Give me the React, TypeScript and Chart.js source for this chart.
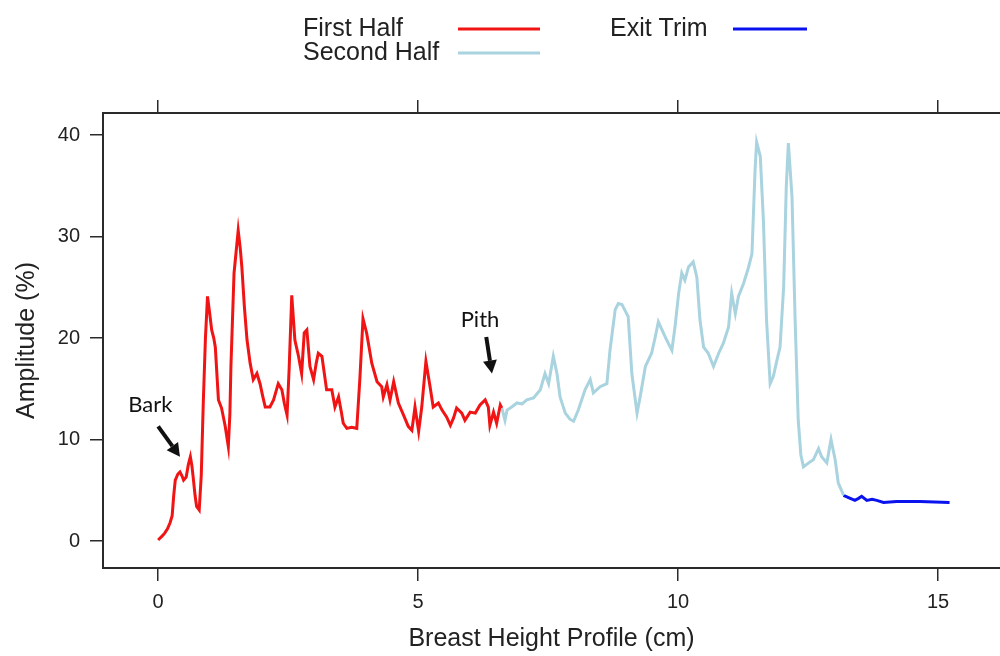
import React, { useEffect, useRef } from "react";
import { Chart, registerables } from "chart.js";

Chart.register(...registerables);

// ---------- data ----------
const firstHalfX = [
  0.0, 0.08, 0.13, 0.18, 0.23, 0.27, 0.3, 0.33, 0.38, 0.42, 0.46, 0.49, 0.54, 0.58, 0.62, 0.65, 0.68, 0.71, 0.74,
  0.79, 0.83, 0.87, 0.91, 0.95, 0.99, 1.03, 1.07, 1.1, 1.13, 1.16, 1.22, 1.29, 1.35, 1.38, 1.4, 1.46, 1.5, 1.54,
  1.58, 1.61, 1.66, 1.71, 1.77, 1.83, 1.9, 1.96, 2.01, 2.06, 2.15, 2.22, 2.31, 2.38, 2.43, 2.48, 2.52, 2.57, 2.6,
  2.63, 2.7, 2.76, 2.81, 2.86, 2.92, 2.99, 3.04, 3.08, 3.15, 3.24, 3.34, 3.4, 3.47, 3.52, 3.56, 3.63, 3.72, 3.82,
  3.88, 3.94, 4.01, 4.11, 4.21, 4.3, 4.33, 4.4, 4.46, 4.53, 4.62, 4.72, 4.81, 4.88, 4.94, 5.01, 5.07, 5.15, 5.23,
  5.29, 5.39, 5.46, 5.55, 5.62, 5.68, 5.74, 5.84, 5.9, 6.0, 6.1, 6.19, 6.29, 6.35, 6.38, 6.45, 6.51, 6.58, 6.61,
];
const firstHalfY = [
  0.1, 0.5, 0.8, 1.2, 1.8, 2.5, 4.5, 6.0, 6.6, 6.8, 6.4, 6.0, 6.3, 7.5, 8.3, 7.4, 6.0, 4.5, 3.4,
  3.05, 6.5, 13.9, 20.0, 24.1, 22.5, 20.8, 20.0, 19.1, 16.5, 13.9, 13.1, 11.3, 9.3, 12.5, 17.2, 26.4, 28.5, 30.6,
  28.8, 27.0, 23.0, 19.8, 17.5, 15.9, 16.5, 15.5, 14.3, 13.2, 13.2, 13.9, 15.5, 14.9, 13.5, 12.4, 17.0, 24.2, 22.0,
  19.8, 18.2, 16.5, 20.5, 20.8, 17.2, 15.9, 17.5, 18.5, 18.2, 14.9, 14.9, 13.2, 14.2, 12.8, 11.6, 11.1, 11.2, 11.1,
  16.0, 21.9, 20.5, 17.5, 15.7, 15.2, 14.2, 15.4, 13.9, 15.7, 13.6, 12.4, 11.3, 10.9, 13.2, 10.8, 13.2, 17.7, 15.2,
  13.2, 13.6, 12.9, 12.2, 11.4, 12.1, 13.1, 12.6, 11.9, 12.7, 12.6, 13.4, 13.9, 13.2, 11.4, 12.7, 11.6, 13.4, 13.1,
];

const secondHalfX = [
  6.61, 6.67, 6.71, 6.8, 6.9, 7.0, 7.09, 7.22, 7.35, 7.44, 7.51, 7.6, 7.67, 7.73, 7.83, 7.92, 7.99, 8.08, 8.21,
  8.31, 8.37, 8.5, 8.63, 8.69, 8.79, 8.85, 8.92, 9.0, 9.04, 9.11, 9.21, 9.27, 9.37, 9.49, 9.56, 9.62, 9.69, 9.78,
  9.88, 9.94, 10.01, 10.07, 10.13, 10.2, 10.29, 10.36, 10.42, 10.49, 10.58, 10.68, 10.78, 10.87, 10.97, 11.03,
  11.1, 11.16, 11.26, 11.35, 11.42, 11.48, 11.51, 11.58, 11.64, 11.7, 11.77, 11.83, 11.9, 11.96, 12.03, 12.08,
  12.12, 12.19, 12.25, 12.31, 12.36, 12.41, 12.51, 12.6, 12.7, 12.76, 12.86, 12.94, 13.02, 13.08, 13.15, 13.18,
];
const secondHalfY = [
  13.1, 11.9, 12.9, 13.2, 13.6, 13.5, 13.9, 14.1, 14.9, 16.5, 15.5, 18.2, 16.5, 14.2, 12.6, 12.0, 11.8, 12.9, 14.9,
  15.9, 14.6, 15.2, 15.5, 18.8, 22.8, 23.4, 23.3, 22.5, 22.1, 16.5, 12.6, 14.2, 17.2, 18.5, 20.1, 21.6, 20.8, 19.8,
  18.8, 21.1, 24.4, 26.4, 25.7, 27.0, 27.5, 26.0, 21.8, 19.1, 18.5, 17.2, 18.5, 19.5, 21.1, 24.4,
  22.4, 24.1, 25.4, 26.9, 28.3, 36.6, 39.3, 37.9, 31.6, 21.8, 15.5, 16.2, 17.8, 19.1, 25.1, 34.9,
  39.2, 33.9, 21.8, 11.9, 8.5, 7.3, 7.7, 8.0, 9.1, 8.3, 7.7, 10.0, 8.0, 5.7, 4.9, 4.5,
];

const exitTrimX = [13.18, 13.31, 13.4, 13.47, 13.53, 13.63, 13.73, 13.82, 13.95, 14.2, 14.65, 15.22];
const exitTrimY = [4.5, 4.2, 4.0, 4.2, 4.4, 4.0, 4.1, 4.0, 3.8, 3.9, 3.9, 3.8];

const seriesNames = ["First Half", "Second Half", "Exit Trim"];
const xTicks = [0, 5, 10, 15];
const yTicks = [0, 10, 20, 30, 40];
const xTitle = "Breast Height Profile (cm)";
const yTitle = "Amplitude (%)";
const annotationLabels = ["Bark", "Pith"];

// ---------- styles / layout ----------
const seriesColors = ["#f01414", "#a8d3df", "#0a12ee"];
const X_MIN = -1.06;
const X_MAX = 16.19;
const Y_MIN = -2.66;
const Y_MAX = 42.17;
const AXIS_COLOR = "#2a2a2a";
const SANS = '"Liberation Sans", Arial, Helvetica, sans-serif';

// annotation anchors (data units): text centre, arrow tail, arrow tip
const annotationAnchors = [
  { tx: -0.15, ty: 13.4, ax0: 0.0, ay0: 11.3, ax1: 0.42, ay1: 8.3 },
  { tx: 6.19, ty: 21.8, ax0: 6.31, ay0: 20.1, ax1: 6.42, ay1: 16.5 },
];

const toPoints = (xs: number[], ys: number[]) => xs.map((x, i) => ({ x, y: ys[i] }));

const legendPlugin = {
  id: "customLegend",
  afterDraw(chart: any) {
    const ctx = chart.ctx;
    const items = [
      { tx: 303, lx0: 458, lx1: 540, y: 29 },
      { tx: 303, lx0: 458, lx1: 540, y: 53 },
      { tx: 610, lx0: 733, lx1: 807, y: 29 },
    ];
    ctx.save();
    ctx.font = `25px ${SANS}`;
    ctx.textBaseline = "middle";
    ctx.textAlign = "left";
    items.forEach((it, i) => {
      ctx.fillStyle = "#222";
      ctx.fillText(seriesNames[i], it.tx, it.y);
      ctx.strokeStyle = seriesColors[i];
      ctx.lineWidth = 3;
      ctx.beginPath();
      ctx.moveTo(it.lx0, it.y);
      ctx.lineTo(it.lx1, it.y);
      ctx.stroke();
    });
    ctx.restore();
  },
};

const annotationPlugin = {
  id: "arrows",
  afterDatasetsDraw(chart: any) {
    const ctx = chart.ctx;
    const xs = chart.scales.x;
    const ys = chart.scales.y;
    ctx.save();
    annotationAnchors.forEach((a, i) => {
      const tx = xs.getPixelForValue(a.tx);
      const ty = ys.getPixelForValue(a.ty);
      ctx.font = `22px Lato, "Open Sans", sans-serif`;
      ctx.fillStyle = "#111";
      ctx.textAlign = "center";
      ctx.textBaseline = "middle";
      ctx.fillText(annotationLabels[i], tx, ty);
      const x0 = xs.getPixelForValue(a.ax0);
      const y0 = ys.getPixelForValue(a.ay0);
      const x1 = xs.getPixelForValue(a.ax1);
      const y1 = ys.getPixelForValue(a.ay1);
      const ang = Math.atan2(y1 - y0, x1 - x0);
      const head = 13;
      const hw = 7;
      const bx = x1 - head * Math.cos(ang);
      const by = y1 - head * Math.sin(ang);
      ctx.strokeStyle = "#111";
      ctx.lineWidth = 4;
      ctx.beginPath();
      ctx.moveTo(x0, y0);
      ctx.lineTo(bx, by);
      ctx.stroke();
      ctx.fillStyle = "#111";
      ctx.beginPath();
      ctx.moveTo(x1, y1);
      ctx.lineTo(bx + hw * Math.sin(ang), by - hw * Math.cos(ang));
      ctx.lineTo(bx - hw * Math.sin(ang), by + hw * Math.cos(ang));
      ctx.closePath();
      ctx.fill();
    });
    ctx.restore();
  },
};

export default function App() {
  const ref = useRef<HTMLCanvasElement | null>(null);
  useEffect(() => {
    if (!ref.current) return;
    const grid = {
      drawOnChartArea: false,
      drawTicks: true,
      tickLength: 13,
      color: AXIS_COLOR,
      lineWidth: 1.5,
    };
    const border = { display: true, color: AXIS_COLOR, width: 2 };
    const tickFont = { family: SANS, size: 20 };
    const chart = new Chart(ref.current, {
      type: "line",
      data: {
        datasets: [
          { label: seriesNames[0], data: toPoints(firstHalfX, firstHalfY), borderColor: seriesColors[0] },
          { label: seriesNames[1], data: toPoints(secondHalfX, secondHalfY), borderColor: seriesColors[1] },
          { label: seriesNames[2], data: toPoints(exitTrimX, exitTrimY), borderColor: seriesColors[2] },
        ].map((d) => ({ ...d, borderWidth: 3, pointRadius: 0, tension: 0, fill: false, xAxisID: "x", yAxisID: "y" })),
      },
      options: {
        animation: false,
        responsive: false,
        devicePixelRatio: 1,
        layout: { padding: 0 },
        plugins: { legend: { display: false }, tooltip: { enabled: false } },
        scales: {
          x: {
            type: "linear",
            position: "bottom",
            min: X_MIN,
            max: X_MAX,
            afterBuildTicks: (s: any) => {
              s.ticks = xTicks.map((v) => ({ value: v }));
            },
            afterFit: (s: any) => {
              s.height = 88;
            },
            grid,
            border,
            ticks: { font: tickFont, color: "#222", padding: 9, maxRotation: 0, autoSkip: false },
            title: {
              display: true,
              text: xTitle,
              color: "#222",
              font: { family: SANS, size: 25 },
              padding: { top: 2, bottom: 2 },
            },
          },
          x2: {
            type: "linear",
            position: "top",
            min: X_MIN,
            max: X_MAX,
            afterBuildTicks: (s: any) => {
              s.ticks = xTicks.map((v) => ({ value: v }));
            },
            afterFit: (s: any) => {
              s.height = 113;
            },
            grid,
            border,
            ticks: { display: false },
          },
          y: {
            type: "linear",
            position: "left",
            min: Y_MIN,
            max: Y_MAX,
            afterBuildTicks: (s: any) => {
              s.ticks = yTicks.map((v) => ({ value: v }));
            },
            afterFit: (s: any) => {
              s.width = 103;
            },
            grid,
            border,
            ticks: { font: tickFont, color: "#222", padding: 10, autoSkip: false },
            title: {
              display: true,
              text: yTitle,
              color: "#222",
              font: { family: SANS, size: 25 },
              padding: { top: 12, bottom: 0 },
            },
          },
        },
      } as any,
      plugins: [legendPlugin, annotationPlugin],
    });
    return () => chart.destroy();
  }, []);
  return (
    <div style={{ position: "absolute", left: 0, top: 0, width: 1000, height: 656, background: "#fff" }}>
      <canvas ref={ref} width={1000} height={656} style={{ display: "block" }} />
    </div>
  );
}
